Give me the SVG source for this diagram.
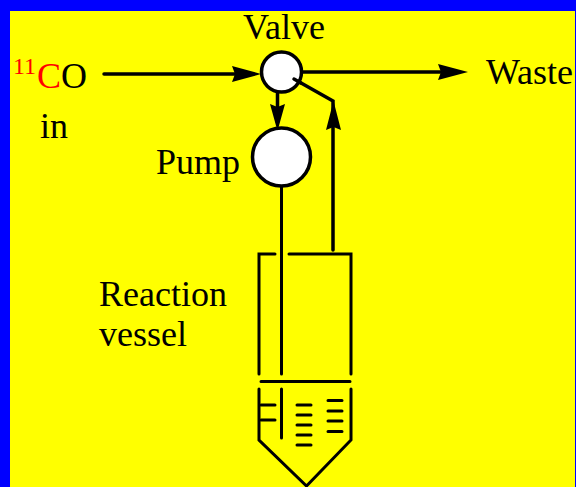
<svg xmlns="http://www.w3.org/2000/svg" width="576" height="487" viewBox="0 0 576 487">
<style>
text{font-family:"Liberation Serif","Times New Roman",serif;font-size:36px;fill:#000}
.r{fill:#f00}
.l{fill:none;stroke:#000;stroke-width:3;stroke-linecap:round;stroke-linejoin:miter}
.t{stroke-width:3.500}
.c{fill:#fff;stroke:#000;stroke-width:3.500}
.a{fill:#000;stroke:none}
</style>
<rect width="576" height="487" fill="#0000ff"/>
<rect x="10" y="11" width="565" height="476" fill="#ffff00"/>
<g id="connectors">
<path class="l t" d="M104 74H240"/><path class="a" d="M261 74L232 66L235 74L232 82Z"/>
<path class="l t" d="M302 72H445"/><path class="a" d="M468 72L438 64L441 72L438 80Z"/>
<path class="l t" d="M277.500 90V110"/><path class="a" d="M277.500 131L270 104L277.500 107L285 104Z"/>
<path class="l t" d="M294 79L333 101V250"/><path class="a" d="M333.500 101L326 130L333.500 127L341 130Z"/>
<path class="l" d="M281.500 187V374M281.500 389V438"/>
</g>
<g id="valve"><circle class="c" cx="281.500" cy="72" r="20"/><path class="l t" d="M294 79L301 83"/><text x="243" y="39">Valve</text></g>
<g id="pump"><circle class="c" cx="281.500" cy="157" r="29"/><text x="156" y="174">Pump</text></g>
<g id="source"><text x="13" y="74" class="r" style="font-size:24px">11</text><text x="37" y="88"><tspan class="r">C</tspan>O</text><text x="40" y="138">in</text></g>
<g id="waste"><text x="486" y="84">Waste</text></g>
<g id="vessel">
<path class="l" d="M275 254H259V374M289 254H351V374M261 381.500H350M259 389V440L306.500 486L351 440V389"/>
<path class="l" d="M261 405H275M261 420H275M297 405H311M297 415H311M297 425H311M297 435H311M297 445H311M328 400.500H342M328 411H342M328 421H342M328 431.500H342"/>
<text x="99" y="306">Reaction</text><text x="99" y="346">vessel</text>
</g>
</svg>
